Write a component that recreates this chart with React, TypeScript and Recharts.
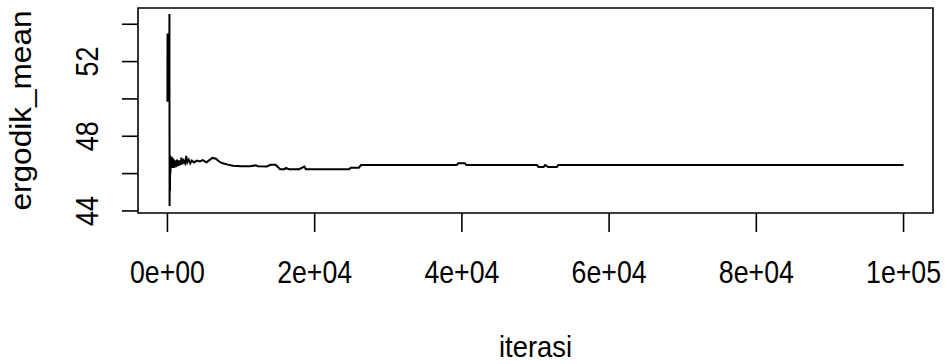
import React from "react";
import { LineChart, Line, XAxis, YAxis, ReferenceArea, Label } from "recharts";

// iteration index and ergodic mean
const iterations = [
  1, 10, 25, 45, 70, 95, 120, 150, 180, 210, 240, 270, 290, 320, 345, 370, 400,
  450, 500, 600, 700, 800, 900, 1000, 1150, 1300, 1450, 1600, 1750, 1900, 2050,
  2200, 2400, 2550, 2700, 2900, 3100, 3300, 3600, 4000, 4400, 4800, 5300, 5700,
  6100, 6600, 7000, 7500, 8200, 8900, 10000, 11200, 12000, 12300, 13500, 14000,
  14700, 15300, 15900, 16100, 16500, 16700, 17900, 18600, 18800, 24700, 24900,
  26000, 26300, 39300, 39500, 40400, 40600, 50200, 50400, 51100, 51300, 51700,
  52000, 52900, 53100, 100000,
];
const ergodicMean = [
  49.85, 53.5, 49.9, 53.45, 50.0, 53.4, 49.9, 53.3, 50.1, 53.2, 50.3, 54.55,
  44.27, 47.0, 45.1, 46.95, 46.0, 46.7, 46.3, 46.9, 46.3, 46.8, 46.3, 46.7,
  46.35, 46.75, 46.4, 46.7, 46.45, 46.85, 46.5, 46.7, 46.55, 46.95, 46.6, 46.75,
  46.55, 46.7, 46.6, 46.7, 46.65, 46.72, 46.6, 46.72, 46.84, 46.8, 46.65, 46.55,
  46.48, 46.42, 46.4, 46.4, 46.44, 46.4, 46.38, 46.47, 46.47, 46.24, 46.24,
  46.3, 46.24, 46.24, 46.24, 46.38, 46.24, 46.24, 46.32, 46.32, 46.46, 46.46,
  46.55, 46.55, 46.46, 46.46, 46.36, 46.36, 46.46, 46.36, 46.36, 46.36, 46.46,
  46.46,
];

const xTicks = [0, 20000, 40000, 60000, 80000, 100000];
const xTickLabels = ["0e+00", "2e+04", "4e+04", "6e+04", "8e+04", "1e+05"];
const yTicks = [44, 46, 48, 50, 52, 54];
const yTickLabels = ["44", "", "48", "", "52", ""];
const xTitle = "iterasi";
const yTitle = "ergodik_mean";

const data = iterations.map((it, i) => ({ iter: it, mean: ergodicMean[i] }));

const FONT = "'Liberation Sans', Arial, sans-serif";

const XTick = (props: any) => {
  const { x, y, payload } = props;
  const idx = xTicks.indexOf(payload.value);
  const label = idx >= 0 ? xTickLabels[idx] : "";
  return (
    <text
      x={x}
      y={y + 49}
      textAnchor="middle"
      fontSize={32}
      fontFamily={FONT}
      fill="#000"
      textLength={75}
      lengthAdjust="spacingAndGlyphs"
    >
      {label}
    </text>
  );
};

const YTick = (props: any) => {
  const { x, y, payload } = props;
  const idx = yTicks.indexOf(payload.value);
  const label = idx >= 0 ? yTickLabels[idx] : "";
  if (!label) return <g />;
  const bx = x - 22;
  return (
    <text
      x={bx}
      y={y}
      transform={`rotate(-90, ${bx}, ${y})`}
      textAnchor="middle"
      fontSize={32}
      fontFamily={FONT}
      fill="#000"
      textLength={30}
      lengthAdjust="spacingAndGlyphs"
    >
      {label}
    </text>
  );
};

const XTitle = (props: any) => {
  const vb = props.viewBox || {};
  const cx = vb.x + vb.width / 2;
  return (
    <text
      x={cx}
      y={vb.y + 144}
      textAnchor="middle"
      fontSize={30}
      fontFamily={FONT}
      fill="#000"
      textLength={73}
      lengthAdjust="spacingAndGlyphs"
    >
      {xTitle}
    </text>
  );
};

const YTitle = (props: any) => {
  const vb = props.viewBox || {};
  const bx = vb.x - 47;
  const cy = vb.y + vb.height / 2;
  return (
    <text
      x={bx}
      y={cy}
      transform={`rotate(-90, ${bx}, ${cy})`}
      textAnchor="middle"
      fontSize={30}
      fontFamily={FONT}
      fill="#000"
      textLength={200}
      lengthAdjust="spacingAndGlyphs"
    >
      {yTitle}
    </text>
  );
};

export default function App() {
  return (
    <div
      style={{
        position: "absolute",
        left: 0,
        top: 0,
        width: 947,
        height: 364,
        background: "#fff",
      }}
    >
      <LineChart
        width={947}
        height={364}
        data={data}
        margin={{ top: 8, right: 14, bottom: 91, left: 78 }}
      >
        <XAxis
          dataKey="iter"
          type="number"
          domain={[-4000, 104000]}
          ticks={xTicks}
          allowDataOverflow
          axisLine={false}
          tickLine={{ stroke: "#000", strokeWidth: 1.6 }}
          tickSize={19}
          height={60}
          tick={<XTick />}
          interval={0}
        >
          <Label content={<XTitle />} />
        </XAxis>
        <YAxis
          type="number"
          domain={[43.89, 54.87]}
          ticks={yTicks}
          allowDataOverflow
          axisLine={false}
          tickLine={{ stroke: "#000", strokeWidth: 1.6 }}
          tickSize={16}
          width={60}
          tick={<YTick />}
          interval={0}
        >
          <Label content={<YTitle />} />
        </YAxis>
        <ReferenceArea
          x1={-4000}
          x2={104000}
          y1={43.89}
          y2={54.87}
          fill="none"
          fillOpacity={0}
          stroke="#000"
          strokeWidth={1.6}
          ifOverflow="visible"
        />
        <Line
          type="linear"
          dataKey="mean"
          stroke="#000"
          strokeWidth={2}
          dot={false}
          isAnimationActive={false}
        />
      </LineChart>
    </div>
  );
}
